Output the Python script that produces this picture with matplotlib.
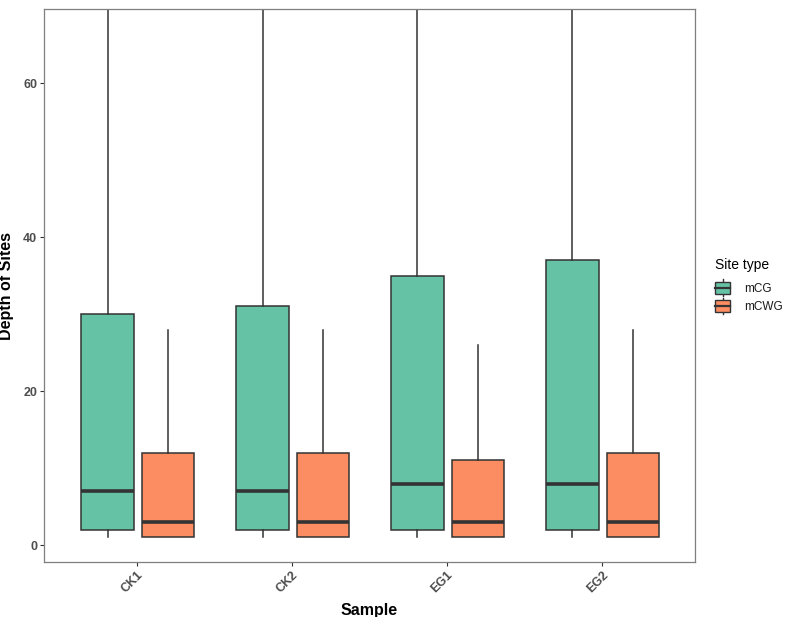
import matplotlib
matplotlib.use("Agg")
import matplotlib.pyplot as plt
from matplotlib.legend_handler import HandlerBase
from matplotlib.patches import Rectangle
from matplotlib.lines import Line2D

plt.rcParams['font.family'] = ['Liberation Sans', 'DejaVu Sans']

samples = ["CK1", "CK2", "EG1", "EG2"]
site_types = ["mCG", "mCWG"]
colors = ["#66C2A5", "#FC8D62"]

# five-number summaries (upper whiskers of mCG run off the top)
mcg_low = [1, 1, 1, 1]
mcg_q1 = [2, 2, 2, 2]
mcg_med = [7, 7, 8, 8]
mcg_q3 = [30, 31, 35, 37]
mcg_high = [72, 74, 84, 89]

mcwg_low = [1, 1, 1, 1]
mcwg_q1 = [1, 1, 1, 1]
mcwg_med = [3, 3, 3, 3]
mcwg_q3 = [12, 12, 11, 12]
mcwg_high = [28, 28, 26, 28]

edge = "#333333"

fig = plt.figure(figsize=(7.86, 6.17), dpi=100)
ax = fig.add_axes([0.056, 0.089, 0.828, 0.896])


def stats(low, q1, med, q3, high):
    return [dict(whislo=a, q1=b, med=c, q3=d, whishi=e, fliers=[])
            for a, b, c, d, e in zip(low, q1, med, q3, high)]


groups = [
    stats(mcg_low, mcg_q1, mcg_med, mcg_q3, mcg_high),
    stats(mcwg_low, mcwg_q1, mcwg_med, mcwg_q3, mcwg_high),
]
offsets = [-0.19, 0.2]

for g, st in enumerate(groups):
    pos = [i + 1 + offsets[g] for i in range(len(samples))]
    ax.bxp(st, positions=pos, widths=0.34, patch_artist=True, showcaps=False,
           showfliers=False, manage_ticks=False,
           boxprops=dict(facecolor=colors[g], edgecolor=edge, linewidth=1.1),
           whiskerprops=dict(color=edge, linewidth=1.1),
           medianprops=dict(color=edge, linewidth=2.6, solid_capstyle="butt"))

ax.set_xlim(0.4, 4.6)
ax.set_ylim(-2.2, 69.6)
ax.set_xticks(range(1, len(samples) + 1))
ax.set_xticklabels(samples, rotation=45, ha="right", va="top",
                   rotation_mode="anchor")
ax.set_yticks([0, 20, 40, 60])
ax.tick_params(colors="#333333", labelcolor="#4D4D4D", labelsize=9, length=3,
               width=0.8, pad=2)
for lab in ax.get_xticklabels() + ax.get_yticklabels():
    lab.set_fontweight("bold")
for sp in ax.spines.values():
    sp.set_color("#7F7F7F")
    sp.set_linewidth(0.9)

ax.set_xlabel("Sample", fontsize=11.5, fontweight="bold")
ax.set_ylabel("Depth of Sites", fontsize=11.5, fontweight="bold")
ax.xaxis.set_label_coords(0.5, -0.074)
ax.yaxis.set_label_coords(-0.046, 0.5)


class BoxKey(HandlerBase):
    def create_artists(self, legend, orig, xd, yd, width, height, fontsize, trans):
        fc = orig.get_facecolor()
        x0 = -xd
        y0 = -yd
        cx = x0 + width / 2
        r = Rectangle((x0, y0 + height * 0.12), width, height * 0.76,
                      facecolor=fc, edgecolor=edge, lw=1.0, transform=trans)
        m = Line2D([x0, x0 + width], [y0 + height / 2] * 2, color=edge,
                   lw=1.6, transform=trans)
        w1 = Line2D([cx, cx], [y0 + height * 0.88, y0 + height * 1.05],
                    color=edge, lw=1.0, transform=trans)
        w2 = Line2D([cx, cx], [y0 - height * 0.05, y0 + height * 0.12],
                    color=edge, lw=1.0, transform=trans)
        return [w1, w2, r, m]


handles = [Rectangle((0, 0), 1, 1, facecolor=c) for c in colors]
leg = ax.legend(handles, site_types, title="Site type", loc="center left",
                bbox_to_anchor=(1.006, 0.5), frameon=False, fontsize=8.5,
                title_fontsize=10, handler_map={Rectangle: BoxKey()},
                handlelength=1.25, handleheight=1.6, handletextpad=1.2,
                labelspacing=0.25, borderpad=0.9)
leg._legend_box.align = "left"
leg._legend_box.sep = 6
for t in leg.get_texts():
    t.set_color("#1A1A1A")

fig.savefig("out.png", dpi=100)
